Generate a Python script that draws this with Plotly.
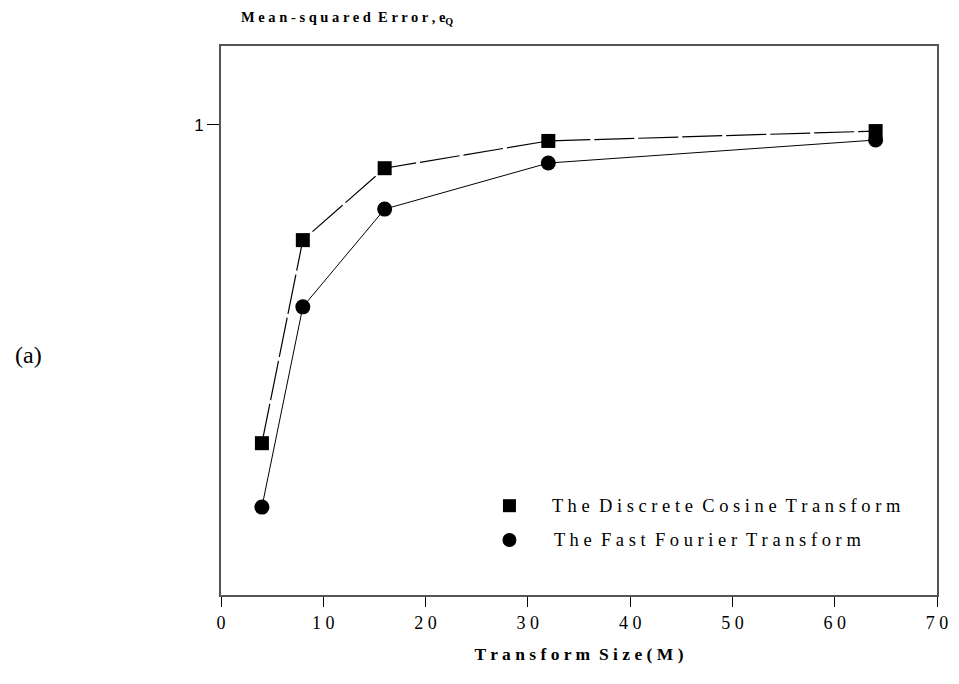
import plotly.graph_objects as go

# Data
transform_size = [4, 8, 16, 32, 64]
dct_error = [0.323, 0.755, 0.908, 0.966, 0.987]
fft_error = [0.187, 0.613, 0.821, 0.919, 0.968]
x_ticks = [0, 10, 20, 30, 40, 50, 60, 70]
y_ticks = [1]

serif = "Liberation Serif, Times New Roman, serif"

# page body has an 8px margin: compensate so plot box lands where reference has it
W, H = 951, 676
ML, MR, MT, MB = 213, 11, 38, 89
PW, PH = W - ML - MR, H - MT - MB


def px_x(px):
    return (px - 8 - ML) / PW


def px_y(py):
    return (H - MB - (py - 8)) / PH


fig = go.Figure()
fig.add_trace(go.Scatter(
    x=transform_size, y=dct_error, mode="lines+markers",
    name="The Discrete Cosine Transform",
    line=dict(color="black", width=1.2, dash="40px,4px"),
    marker=dict(symbol="square", size=14, color="black"),
    showlegend=False,
))
fig.add_trace(go.Scatter(
    x=transform_size, y=fft_error, mode="lines+markers",
    name="The Fast Fourier Transform",
    line=dict(color="black", width=1),
    marker=dict(symbol="circle", size=15, color="black"),
    showlegend=False,
))

# Legend-like markers inside the plot (placed in data coordinates)
legend_x = [28.2]
fig.add_trace(go.Scatter(x=legend_x, y=[0.19], mode="markers",
                         marker=dict(symbol="square", size=13, color="black"),
                         showlegend=False, hoverinfo="skip"))
fig.add_trace(go.Scatter(x=legend_x, y=[0.117], mode="markers",
                         marker=dict(symbol="circle", size=14, color="black"),
                         showlegend=False, hoverinfo="skip"))

fig.add_annotation(x=32.2, y=0.19, xref="x", yref="y", xanchor="left", yanchor="middle",
                   text="T h e  D i s c r e t e  C o s i n e  T r a n s f o r m",
                   showarrow=False, font=dict(family=serif, size=18.5, color="black"))
fig.add_annotation(x=32.4, y=0.117, xref="x", yref="y", xanchor="left", yanchor="middle",
                   text="T h e  F a s t  F o u r i e r  T r a n s f o r m",
                   showarrow=False, font=dict(family=serif, size=18.5, color="black"))

fig.add_annotation(x=px_x(239), y=px_y(18), xref="paper", yref="paper", showarrow=False,
                   text="<b>M e a n - s q u a r e d  E r r o r , e<sub>Q</sub></b>",
                   font=dict(family=serif, size=14.5, color="black"),
                   xanchor="left", yanchor="middle")
fig.add_annotation(x=px_x(10), y=px_y(355), xref="paper", yref="paper", showarrow=False,
                   text="(a)", xanchor="left", yanchor="middle",
                   font=dict(family=serif, size=24, color="black"))

fig.update_layout(
    width=W, height=H,
    margin=dict(l=ML, r=MR, t=MT, b=MB),
    plot_bgcolor="white", paper_bgcolor="white",
    xaxis=dict(
        range=[0, 70], tickvals=x_ticks, ticktext=[" ".join(str(v)) for v in x_ticks],
        ticks="outside", ticklen=10, tickcolor="black", showgrid=False, zeroline=False,
        showline=True, linecolor="#555", linewidth=2, mirror=True,
        tickfont=dict(family=serif, size=18, color="black"),
        title=dict(text="<b>T r a n s f o r m  S i z e ( M )</b>",
                   font=dict(family=serif, size=17.5, color="black"), standoff=16),
    ),
    yaxis=dict(
        range=[0, 1.168], tickvals=y_ticks, ticktext=["1"],
        ticks="outside", ticklen=12, tickcolor="black", showgrid=False, zeroline=False,
        showline=True, linecolor="#555", linewidth=2, mirror=True,
        tickfont=dict(family="Liberation Sans, Arial, sans-serif", size=17, color="black"),
    ),
)

fig.write_html("out.html")
